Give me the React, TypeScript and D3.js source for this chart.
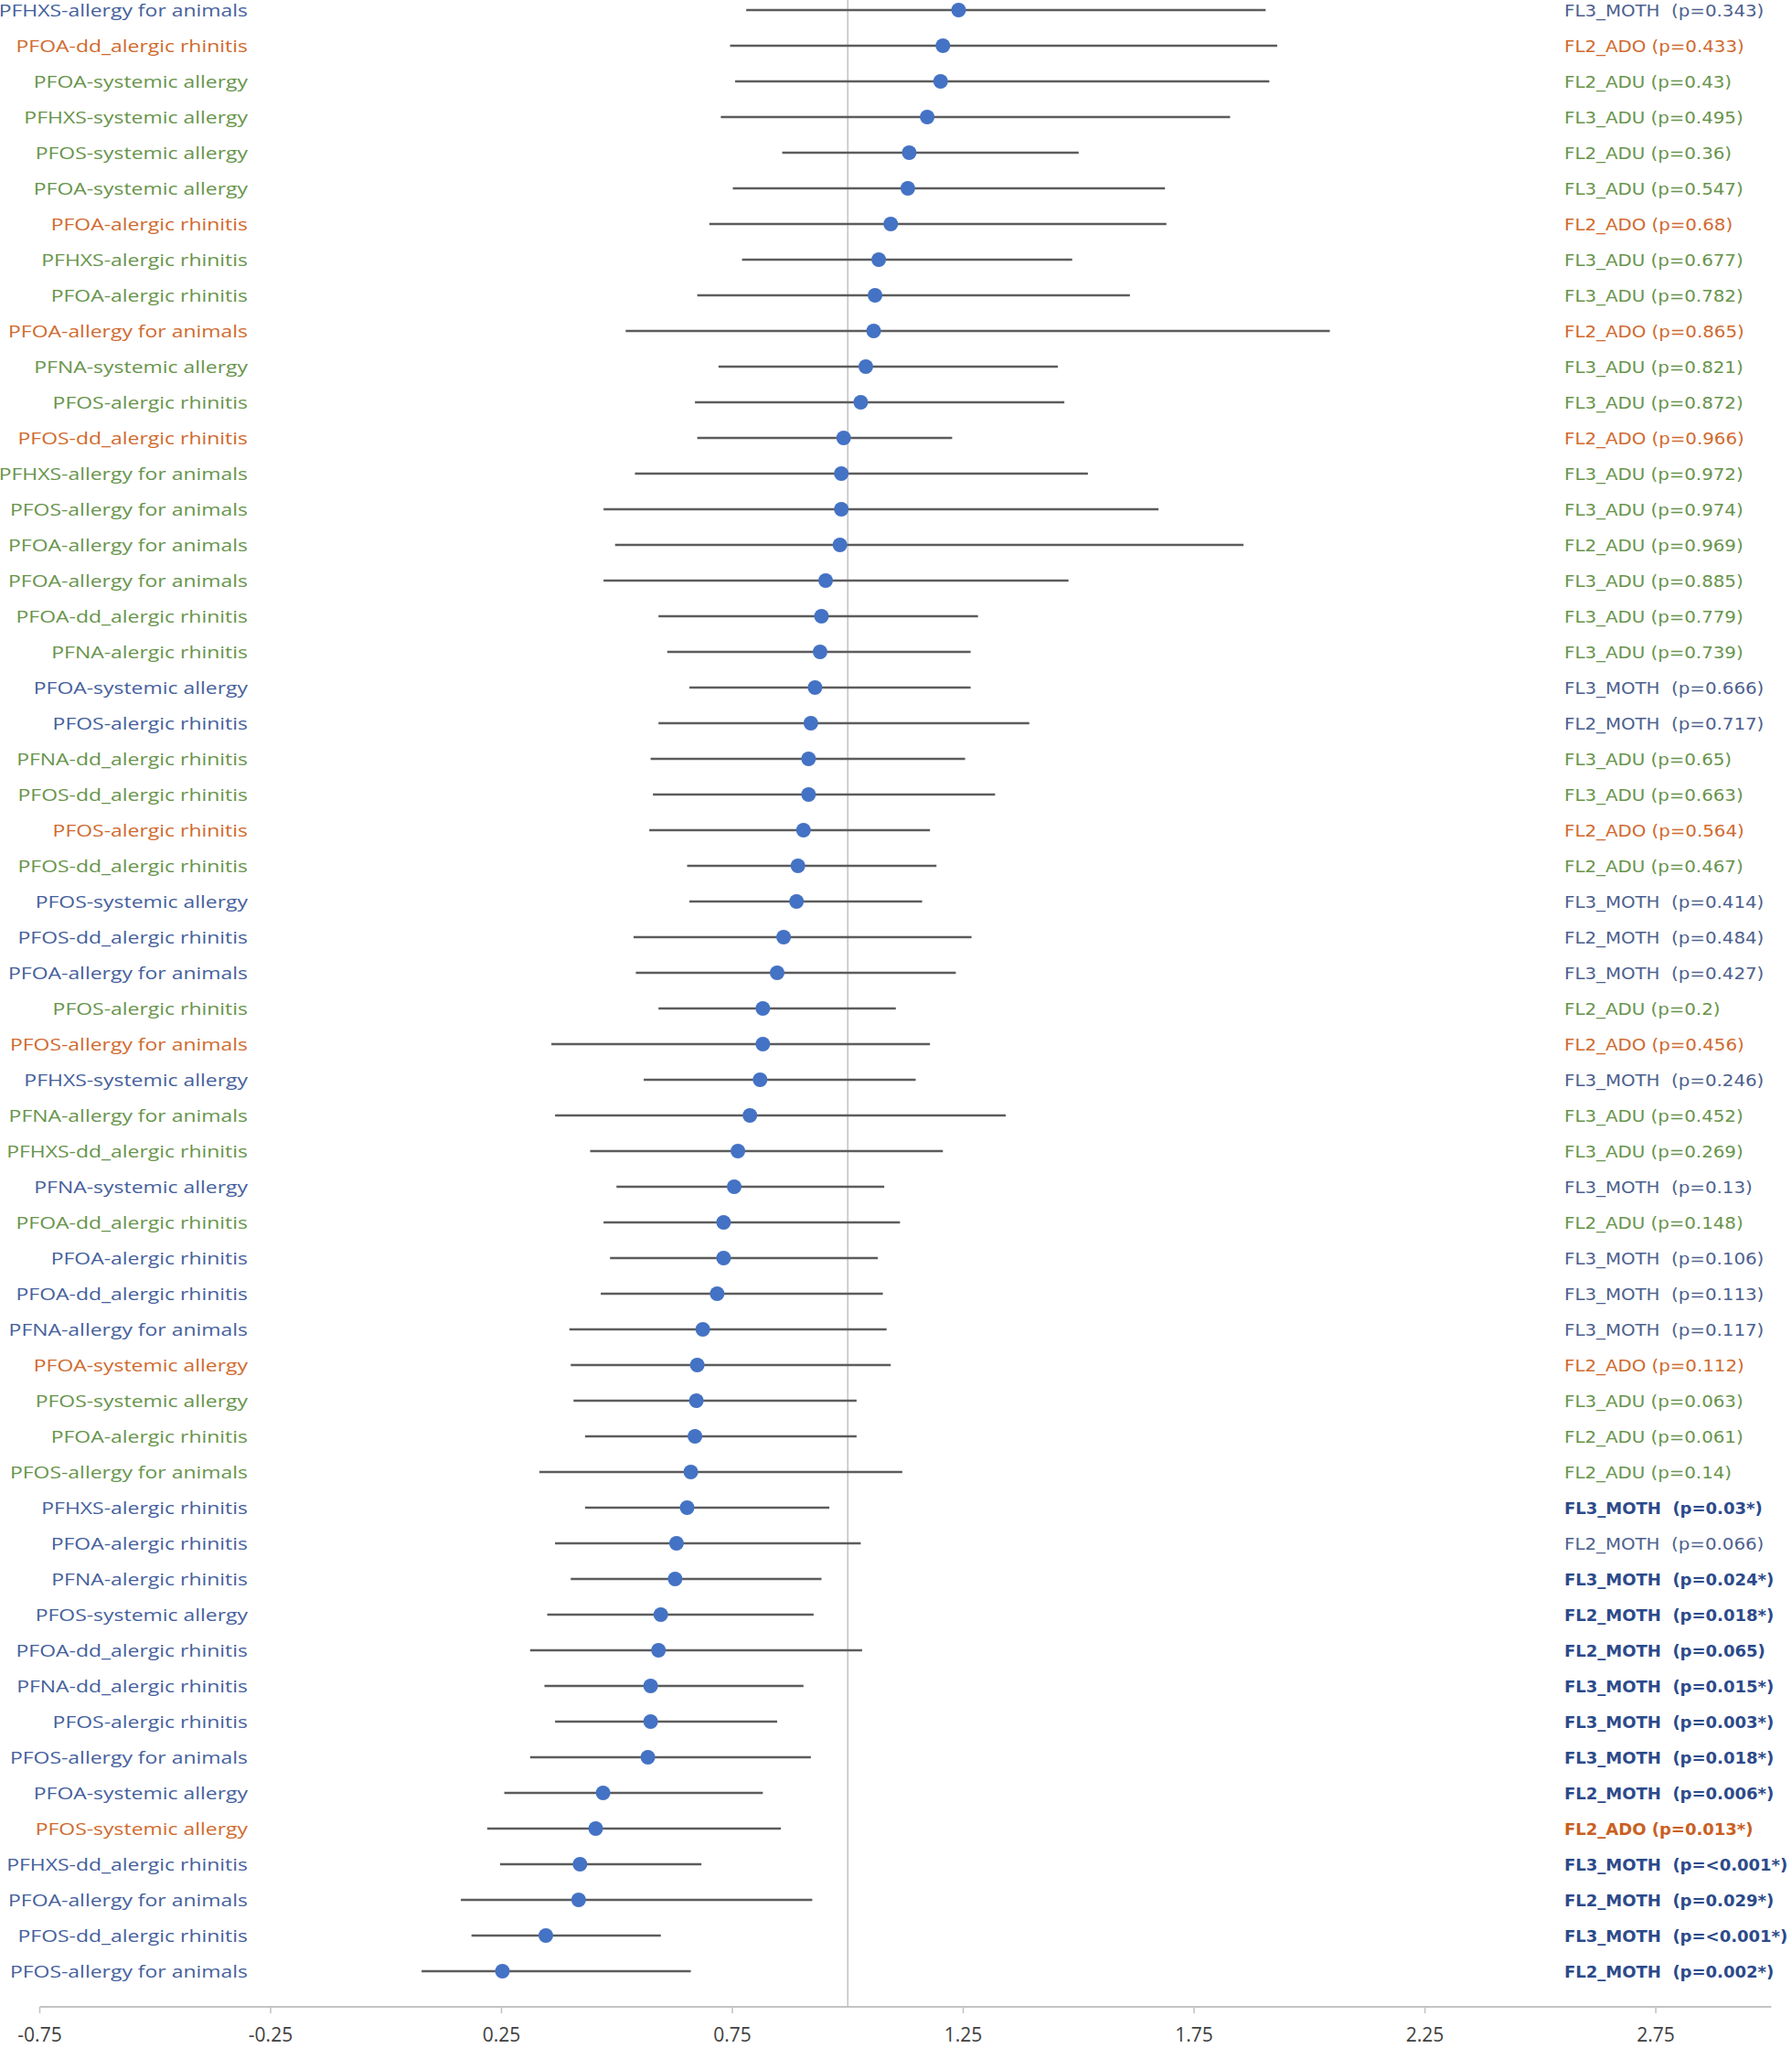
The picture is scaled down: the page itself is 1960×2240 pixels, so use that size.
import React from 'react';
import * as d3 from 'd3';

const outcomes = [
  'PFHXS-allergy for animals', 'PFOA-dd_alergic rhinitis', 'PFOA-systemic allergy', 'PFHXS-systemic allergy',
  'PFOS-systemic allergy', 'PFOA-systemic allergy', 'PFOA-alergic rhinitis', 'PFHXS-alergic rhinitis',
  'PFOA-alergic rhinitis', 'PFOA-allergy for animals', 'PFNA-systemic allergy', 'PFOS-alergic rhinitis',
  'PFOS-dd_alergic rhinitis', 'PFHXS-allergy for animals', 'PFOS-allergy for animals', 'PFOA-allergy for animals',
  'PFOA-allergy for animals', 'PFOA-dd_alergic rhinitis', 'PFNA-alergic rhinitis', 'PFOA-systemic allergy',
  'PFOS-alergic rhinitis', 'PFNA-dd_alergic rhinitis', 'PFOS-dd_alergic rhinitis', 'PFOS-alergic rhinitis',
  'PFOS-dd_alergic rhinitis', 'PFOS-systemic allergy', 'PFOS-dd_alergic rhinitis', 'PFOA-allergy for animals',
  'PFOS-alergic rhinitis', 'PFOS-allergy for animals', 'PFHXS-systemic allergy', 'PFNA-allergy for animals',
  'PFHXS-dd_alergic rhinitis', 'PFNA-systemic allergy', 'PFOA-dd_alergic rhinitis', 'PFOA-alergic rhinitis',
  'PFOA-dd_alergic rhinitis', 'PFNA-allergy for animals', 'PFOA-systemic allergy', 'PFOS-systemic allergy',
  'PFOA-alergic rhinitis', 'PFOS-allergy for animals', 'PFHXS-alergic rhinitis', 'PFOA-alergic rhinitis',
  'PFNA-alergic rhinitis', 'PFOS-systemic allergy', 'PFOA-dd_alergic rhinitis', 'PFNA-dd_alergic rhinitis',
  'PFOS-alergic rhinitis', 'PFOS-allergy for animals', 'PFOA-systemic allergy', 'PFOS-systemic allergy',
  'PFHXS-dd_alergic rhinitis', 'PFOA-allergy for animals', 'PFOS-dd_alergic rhinitis', 'PFOS-allergy for animals',
];

const cohorts = [
  'FL3_MOTH', 'FL2_ADO', 'FL2_ADU', 'FL3_ADU', 'FL2_ADU', 'FL3_ADU', 'FL2_ADO', 'FL3_ADU',
  'FL3_ADU', 'FL2_ADO', 'FL3_ADU', 'FL3_ADU', 'FL2_ADO', 'FL3_ADU', 'FL3_ADU', 'FL2_ADU',
  'FL3_ADU', 'FL3_ADU', 'FL3_ADU', 'FL3_MOTH', 'FL2_MOTH', 'FL3_ADU', 'FL3_ADU', 'FL2_ADO',
  'FL2_ADU', 'FL3_MOTH', 'FL2_MOTH', 'FL3_MOTH', 'FL2_ADU', 'FL2_ADO', 'FL3_MOTH', 'FL3_ADU',
  'FL3_ADU', 'FL3_MOTH', 'FL2_ADU', 'FL3_MOTH', 'FL3_MOTH', 'FL3_MOTH', 'FL2_ADO', 'FL3_ADU',
  'FL2_ADU', 'FL2_ADU', 'FL3_MOTH', 'FL2_MOTH', 'FL3_MOTH', 'FL2_MOTH', 'FL2_MOTH', 'FL3_MOTH',
  'FL3_MOTH', 'FL3_MOTH', 'FL2_MOTH', 'FL2_ADO', 'FL3_MOTH', 'FL2_MOTH', 'FL3_MOTH', 'FL2_MOTH',
];

const pValues = [
  '0.343', '0.433', '0.43', '0.495', '0.36', '0.547', '0.68', '0.677',
  '0.782', '0.865', '0.821', '0.872', '0.966', '0.972', '0.974', '0.969',
  '0.885', '0.779', '0.739', '0.666', '0.717', '0.65', '0.663', '0.564',
  '0.467', '0.414', '0.484', '0.427', '0.2', '0.456', '0.246', '0.452',
  '0.269', '0.13', '0.148', '0.106', '0.113', '0.117', '0.112', '0.063',
  '0.061', '0.14', '0.03*', '0.066', '0.024*', '0.018*', '0.065', '0.015*',
  '0.003*', '0.018*', '0.006*', '0.013*', '<0.001*', '0.029*', '<0.001*', '0.002*',
];

const highlighted = [
  0, 0, 0, 0, 0, 0, 0, 0, 0, 0, 0, 0, 0, 0, 0, 0,
  0, 0, 0, 0, 0, 0, 0, 0, 0, 0, 0, 0, 0, 0, 0, 0,
  0, 0, 0, 0, 0, 0, 0, 0, 0, 0, 1, 0, 1, 1, 1, 1,
  1, 1, 1, 1, 1, 1, 1, 1,
];

const estimates = [
  1.240, 1.206, 1.201, 1.172, 1.133, 1.130, 1.093, 1.067,
  1.059, 1.056, 1.039, 1.028, 0.991, 0.986, 0.986, 0.983,
  0.952, 0.943, 0.940, 0.929, 0.920, 0.915, 0.915, 0.904,
  0.892, 0.889, 0.861, 0.847, 0.816, 0.816, 0.810, 0.788,
  0.762, 0.754, 0.731, 0.731, 0.717, 0.686, 0.674, 0.672,
  0.669, 0.660, 0.652, 0.629, 0.626, 0.595, 0.590, 0.573,
  0.573, 0.567, 0.470, 0.454, 0.420, 0.417, 0.346, 0.252,
];

const lowerCI = [
  0.780, 0.745, 0.756, 0.725, 0.858, 0.751, 0.700, 0.771,
  0.674, 0.519, 0.720, 0.669, 0.674, 0.539, 0.471, 0.496,
  0.471, 0.590, 0.609, 0.657, 0.590, 0.573, 0.578, 0.570,
  0.652, 0.657, 0.536, 0.541, 0.590, 0.358, 0.558, 0.366,
  0.442, 0.499, 0.471, 0.485, 0.465, 0.397, 0.400, 0.406,
  0.431, 0.332, 0.431, 0.366, 0.400, 0.349, 0.312, 0.343,
  0.366, 0.312, 0.256, 0.219, 0.247, 0.162, 0.185, 0.077,
];

const upperCI = [
  1.905, 1.930, 1.913, 1.828, 1.500, 1.687, 1.690, 1.486,
  1.611, 2.044, 1.455, 1.469, 1.226, 1.520, 1.673, 1.857,
  1.478, 1.282, 1.266, 1.266, 1.393, 1.254, 1.319, 1.178,
  1.192, 1.161, 1.268, 1.234, 1.104, 1.178, 1.147, 1.342,
  1.206, 1.079, 1.113, 1.065, 1.076, 1.084, 1.093, 1.019,
  1.019, 1.118, 0.960, 1.028, 0.943, 0.926, 1.031, 0.904,
  0.847, 0.920, 0.816, 0.855, 0.683, 0.923, 0.595, 0.660,
];

const xTicks = [-0.75, -0.25, 0.25, 0.75, 1.25, 1.75, 2.25, 2.75];
const xDomain = [-0.75, 3.0];
const referenceValue = 1.0;

const leftColor: Record<string, string> = { MOTH: '#45609c', ADO: '#d06a2e', ADU: '#68944c' };
const rightColor: Record<string, string> = { MOTH: '#4d5f8e', ADO: '#d06a2e', ADU: '#68944c' };
const rightBoldColor: Record<string, string> = { MOTH: '#2c4a8a', ADO: '#c9601f', ADU: '#5b8a3b' };

const groupOf = (c: string) => c.split('_')[1];

export default function App() {
  const W = 1960;
  const H = 2240;
  const axisY = 2195;
  const x = d3.scaleLinear().domain(xDomain).range([43.5, 1937.3]);
  const y = d3.scaleLinear().domain([0, outcomes.length - 1]).range([11, 2156]);
  const labelScale = 1.22;
  const labelRight = 271;
  const rightX = 1711;

  return (
    <svg width={W} height={H} viewBox={`0 0 ${W} ${H}`}
      style={{ position: 'absolute', left: 0, top: 0, background: '#ffffff' }}>
      <rect x={0} y={0} width={W} height={H} fill="#ffffff" />
      {/* reference line */}
      <line x1={x(referenceValue)} x2={x(referenceValue)} y1={0} y2={axisY} stroke="#c4c4c4" strokeWidth={1.6} />

      {/* axis */}
      <line x1={x(xDomain[0])} x2={x(xDomain[1])} y1={axisY} y2={axisY} stroke="#c4c4c4" strokeWidth={2} />
      {xTicks.map((t) => (
        <g key={t}>
          <line x1={x(t)} x2={x(t)} y1={axisY} y2={axisY + 7} stroke="#c4c4c4" strokeWidth={1.6} />
          <text x={x(t)} y={axisY + 38} textAnchor="middle" fontFamily="'Open Sans', sans-serif" fontSize={21}
            fill="#404040">{t.toFixed(2)}</text>
        </g>
      ))}

      {/* CI lines and points */}
      {outcomes.map((_, i) => (
        <g key={`m${i}`}>
          <line x1={x(lowerCI[i])} x2={x(upperCI[i])} y1={y(i)} y2={y(i)} stroke="#5c5c5c" strokeWidth={2.3} />
          <circle cx={x(estimates[i])} cy={y(i)} r={8} fill="#4472c4" />
        </g>
      ))}

      {/* left labels */}
      <g transform={`scale(${labelScale},1)`}>
        {outcomes.map((o, i) => (
          <text key={`l${i}`} x={labelRight / labelScale} y={y(i) + 6.8} textAnchor="end"
            fontFamily="'Open Sans', sans-serif" fontSize={18.8} fill={leftColor[groupOf(cohorts[i])]}>{o}</text>
        ))}
      </g>

      {/* right labels */}
      {cohorts.map((c, i) => {
        const bold = highlighted[i] === 1;
        const g = groupOf(c);
        const sx = bold ? 1.0 : 1.1;
        return (
          <text key={`r${i}`} transform={`translate(${rightX},${y(i) + 6.8}) scale(${sx},1)`}
            fontFamily="'DejaVu Sans', sans-serif" fontSize={18}
            fontWeight={bold ? 'bold' : 'normal'} fill={bold ? rightBoldColor[g] : rightColor[g]}
            style={{ whiteSpace: 'pre' }}>{`${c}${g === 'MOTH' ? '  ' : ' '}(p=${pValues[i]})`}</text>
        );
      })}
    </svg>
  );
}
